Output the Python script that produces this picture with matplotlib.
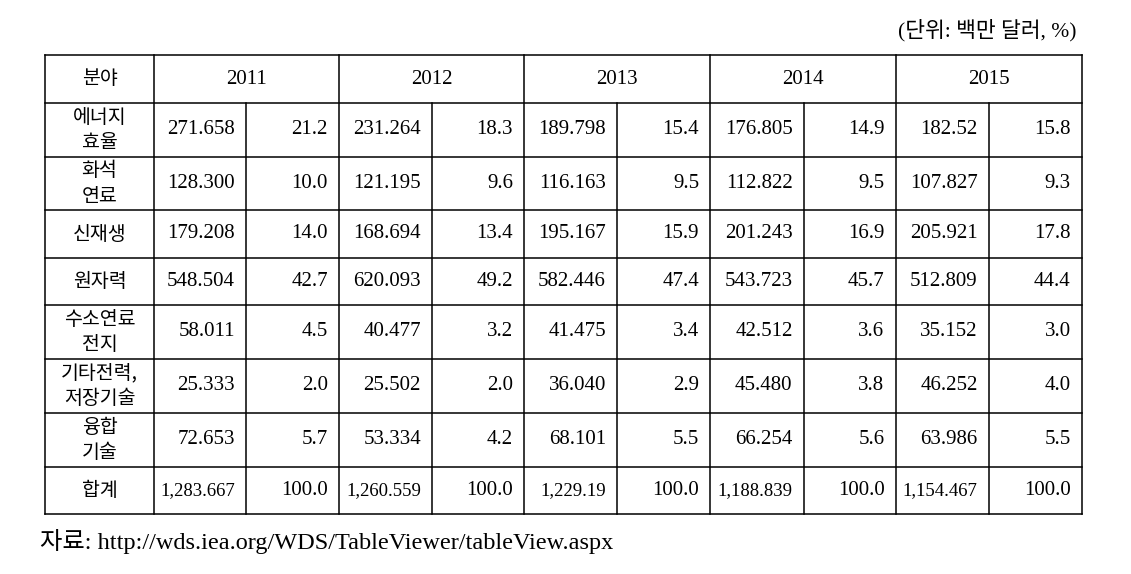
import matplotlib
matplotlib.use("Agg")
import matplotlib.pyplot as plt

# --- data ---
years = ["2011", "2012", "2013", "2014", "2015"]
fields = ["에너지\n효율", "화석\n연료", "신재생", "원자력", "수소연료\n전지",
          "기타전력,\n저장기술", "융합\n기술", "합계"]
amount = [
    ["271.658", "231.264", "189.798", "176.805", "182.52"],
    ["128.300", "121.195", "116.163", "112.822", "107.827"],
    ["179.208", "168.694", "195.167", "201.243", "205.921"],
    ["548.504", "620.093", "582.446", "543.723", "512.809"],
    ["58.011", "40.477", "41.475", "42.512", "35.152"],
    ["25.333", "25.502", "36.040", "45.480", "46.252"],
    ["72.653", "53.334", "68.101", "66.254", "63.986"],
    ["1,283.667", "1,260.559", "1,229.19", "1,188.839", "1,154.467"],
]
share = [
    [21.2, 18.3, 15.4, 14.9, 15.8],
    [10.0, 9.6, 9.5, 9.5, 9.3],
    [14.0, 13.4, 15.9, 16.9, 17.8],
    [42.7, 49.2, 47.4, 45.7, 44.4],
    [4.5, 3.2, 3.4, 3.6, 3.0],
    [2.0, 2.0, 2.9, 3.8, 4.0],
    [5.7, 4.2, 5.5, 5.6, 5.5],
    [100.0, 100.0, 100.0, 100.0, 100.0],
]
unit_note = "(단위: 백만 달러, %)"
source_note = "자료: http://wds.iea.org/WDS/TableViewer/tableView.aspx"

# --- layout (pixel grid of the page) ---
W, H = 1131, 574
col_x = [45, 154, 246, 339, 432, 524, 617, 710, 803.5, 895.5, 988.6, 1081.8]
row_y = [55, 103, 157, 210, 258, 305, 359, 413, 467, 514]
pad = 11
fs = 15
mixed = ["Liberation Serif", "Noto Sans CJK KR"]
kor = ["Noto Sans CJK KR", "Liberation Serif"]

fig = plt.figure(figsize=(W / 100, H / 100), dpi=100)
ax = fig.add_axes([0, 0, 1, 1])
ax.set_xlim(0, W)
ax.set_ylim(H, 0)
ax.axis("off")

lw = 1.1
# horizontal lines
for y in row_y:
    ax.plot([col_x[0], col_x[-1]], [y, y], color="black", lw=lw)
# vertical lines (sub-splits do not cut the header row)
for i, x in enumerate(col_x):
    top = row_y[1] if (i >= 2 and i % 2 == 0) else row_y[0]
    ax.plot([x, x], [top, row_y[-1]], color="black", lw=lw)

# header
ax.text((col_x[0] + col_x[1]) / 2, (row_y[0] + row_y[1]) / 2, "분야",
        ha="center", va="center", fontsize=14, family=kor)
for j, yr in enumerate(years):
    xc = (col_x[1 + 2 * j] + col_x[3 + 2 * j]) / 2
    ax.text(xc, (row_y[0] + row_y[1]) / 2, yr, ha="center", va="center",
            fontsize=fs, family=mixed)

# body
last = len(fields) - 1
for i, name in enumerate(fields):
    yc = (row_y[i + 1] + row_y[i + 2]) / 2
    ax.text((col_x[0] + col_x[1]) / 2, yc, name, ha="center", va="center",
            fontsize=14, family=kor, linespacing=1.3)
    for j in range(len(years)):
        ax.text(col_x[2 + 2 * j] - pad, yc, amount[i][j], ha="right", va="center",
                fontsize=13.5 if i == last else fs, family=mixed)
        ax.text(col_x[3 + 2 * j] - pad, yc, f"{share[i][j]:.1f}", ha="right",
                va="center", fontsize=fs, family=mixed)

ax.text(1077, 30, unit_note, ha="right", va="center", fontsize=15.5, family=mixed)
ax.text(40, 541, source_note, ha="left", va="center", fontsize=17.5, family=mixed)

fig.savefig("out.png", dpi=100)
